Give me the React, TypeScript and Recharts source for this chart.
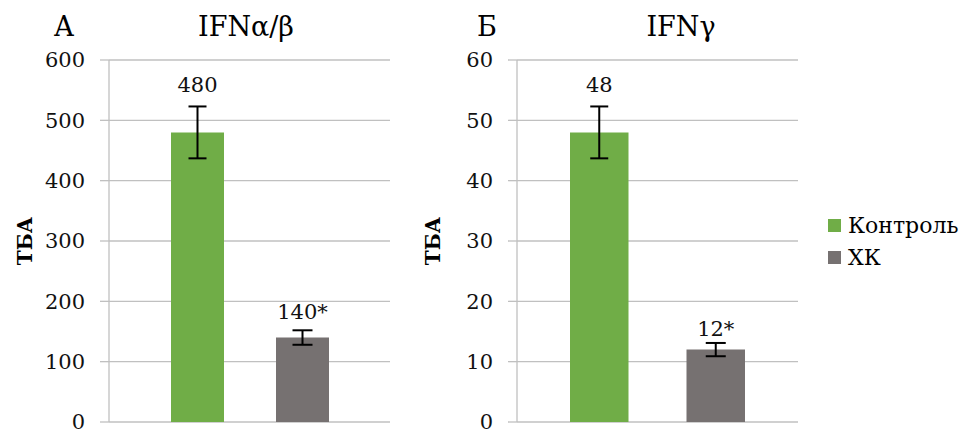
import {
  BarChart,
  Bar,
  XAxis,
  YAxis,
  CartesianGrid,
  ErrorBar,
  LabelList,
} from "recharts";

const groups = ["Контроль", "ХК"];
const colors = ["#70ad47", "#767171"];

// IFNα/β
const abValues = [480, 140];
const abErrors = [43, 12];
const abLabels = ["480", "140*"];
const abTicks = [0, 100, 200, 300, 400, 500, 600];

// IFNγ
const gValues = [48, 12];
const gErrors = [4.3, 1.1];
const gLabels = ["48", "12*"];
const gTicks = [0, 10, 20, 30, 40, 50, 60];

const FONT = "'DejaVu Serif', serif";
const GRID = "#c0c0c0";

const makeRow = (name: string, values: number[], errors: number[]) => ({
  name,
  control: values[0],
  controlErr: errors[0],
  xk: values[1],
  xkErr: errors[1],
});

const abData = [makeRow("IFNα/β", abValues, abErrors)];
const gData = [makeRow("IFNγ", gValues, gErrors)];

// label sits above the top of the error bar
const valueLabel = (text: string, err: number, gap: number) => (props: any) => {
  const { x, y, width, height, value } = props;
  const errTop = y - (err * height) / value;
  return (
    <text
      x={x + width / 2}
      y={errTop - gap}
      textAnchor="middle"
      fontFamily={FONT}
      fontSize={21}
      fill="#111"
    >
      {text}
    </text>
  );
};

const axisTitle = (props: any) => {
  const { viewBox } = props;
  const cy = viewBox.y + viewBox.height / 2;
  return (
    <text
      x={25}
      y={cy}
      transform={`rotate(-90 25 ${cy})`}
      textAnchor="middle"
      dominantBaseline="central"
      fontFamily={FONT}
      fontWeight="bold"
      fontSize={20}
      fill="#000"
    >
      ТБА
    </text>
  );
};

const LegendBox = () => (
  <div
    style={{
      position: "absolute",
      left: 828,
      top: 210,
      fontFamily: FONT,
      fontSize: 22,
      color: "#000",
    }}
  >
    {groups.map((g, i) => (
      <div
        key={g}
        style={{ display: "flex", alignItems: "center", height: 31.5 }}
      >
        <span
          style={{
            width: 13,
            height: 13,
            background: colors[i],
            marginRight: 7,
            display: "inline-block",
          }}
        />
        {g}
      </div>
    ))}
  </div>
);

type PanelProps = {
  data: any[];
  ticks: number[];
  labels: string[];
  errors: number[];
  gaps: number[];
  barSize: number;
  barGap: number;
};

const Panel = ({ data, ticks, labels, errors, gaps, barSize, barGap }: PanelProps) => (
  <BarChart
    width={400}
    height={429}
    data={data}
    margin={{ top: 60, right: 10, bottom: 7, left: 0 }}
    barSize={barSize}
    barGap={barGap}
  >
    <CartesianGrid vertical={false} stroke={GRID} strokeWidth={1.3} />
    <XAxis dataKey="name" hide />
    <YAxis
      width={109}
      domain={[ticks[0], ticks[ticks.length - 1]]}
      ticks={ticks}
      interval={0}
      tickSize={9}
      tickMargin={15}
      axisLine={{ stroke: GRID, strokeWidth: 1.3 }}
      tickLine={{ stroke: GRID, strokeWidth: 1.3 }}
      tick={{ fontFamily: FONT, fontSize: 21, fill: "#111" }}
      label={{ content: axisTitle }}
    />
    <Bar dataKey="control" name={groups[0]} fill={colors[0]} isAnimationActive={false}>
      <ErrorBar dataKey="controlErr" width={9} stroke="#000" strokeWidth={2} />
      <LabelList dataKey="control" content={valueLabel(labels[0], errors[0], gaps[0])} />
    </Bar>
    <Bar dataKey="xk" name={groups[1]} fill={colors[1]} isAnimationActive={false}>
      <ErrorBar dataKey="xkErr" width={10} stroke="#000" strokeWidth={2} />
      <LabelList dataKey="xk" content={valueLabel(labels[1], errors[1], gaps[1])} />
    </Bar>
  </BarChart>
);

export default function App() {
  return (
    <div
      style={{
        position: "absolute",
        left: 0,
        top: 0,
        width: 967,
        height: 429,
        background: "#fff",
        overflow: "hidden",
      }}
    >
      <div style={{ position: "absolute", left: 0, top: 0 }}>
        <Panel
          data={abData}
          ticks={abTicks}
          labels={abLabels}
          errors={abErrors}
          gaps={[14, 11]}
          barSize={53}
          barGap={52}
        />
      </div>
      <div style={{ position: "absolute", left: 408, top: 0 }}>
        <Panel
          data={gData}
          ticks={gTicks}
          labels={gLabels}
          errors={gErrors}
          gaps={[14, 7]}
          barSize={58.5}
          barGap={58}
        />
      </div>
      <LegendBox />
      <svg
        width={967}
        height={429}
        style={{ position: "absolute", left: 0, top: 0, pointerEvents: "none" }}
        fontFamily={FONT}
        fontSize={27}
        fill="#000"
      >
        <text x={64} y={36} textAnchor="middle">А</text>
        <text x={246} y={36} textAnchor="middle">IFNα/β</text>
        <text x={487} y={36} textAnchor="middle">Б</text>
        <text x={681} y={36} textAnchor="middle">IFNγ</text>
      </svg>
    </div>
  );
}
